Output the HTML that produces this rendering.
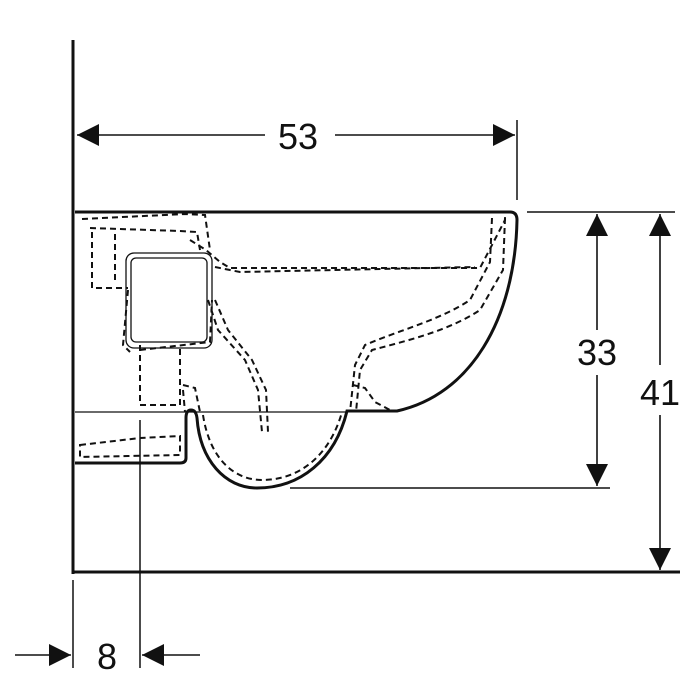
<!DOCTYPE html>
<html><head><style>html,body{margin:0;padding:0;background:#fff}svg{display:block}</style></head>
<body>
<svg width="700" height="700" viewBox="0 0 700 700" xmlns="http://www.w3.org/2000/svg">
<rect width="700" height="700" fill="#fff"/>
<defs>
<marker id="a" viewBox="0 0 10 10" refX="10" refY="5" markerWidth="30" markerHeight="22" markerUnits="userSpaceOnUse" orient="auto">
<path d="M0,0 L10,5 L0,10 Z" fill="#111"/></marker>
</defs>
<g stroke="#111" fill="none">
<line x1="73" y1="40" x2="73" y2="574" stroke-width="3"/>
<line x1="72" y1="572" x2="680" y2="572" stroke-width="3"/>
<path d="M75,212 L510,212 Q517,212 517,220 C515,320 470,395 397,411 L347,411 C335,460 300,488 257,488 C225,488 200,460 197,418 Q196,410 191,410 Q186,410 186,418 L186,458 Q186,463 180,463 L75,463" stroke-width="3"/>
<line x1="75" y1="412" x2="347" y2="412" stroke-width="1.2"/>
<rect x="126" y="253" width="86" height="95" rx="8" stroke-width="1.3"/>
<rect x="131" y="258" width="76" height="84" rx="5" stroke-width="1.3"/>
<g stroke-dasharray="6,4" stroke-width="2">
<path d="M82,219 L185,214 L205,215 L210,250"/>
<path d="M90,228 L180,231 L197,232 L200,250"/>
<path d="M92,232 L92,288 L128,288"/>
<path d="M115,234 L115,280"/>
<path d="M190,240 L206,250 L220,262 L230,268 L480,268 L505,220 L505,215"/>
<path d="M215,267 L240,272 L475,267"/>
<path d="M492,218 L490,262 L470,300 C440,320 400,330 365,345 L355,365 L350,412"/>
<path d="M505,218 L503,270 L480,310 C450,330 410,340 372,350 L360,370 L356,412"/>
<path d="M353,385 L365,388 L375,402 L390,410"/>
<path d="M208,300 L218,330 L245,360 L258,390 L262,432"/>
<path d="M215,300 L228,330 L252,360 L266,390 L268,432"/>
<path d="M140,345 L140,405 L180,405 L180,345"/>
<path d="M140,350 L210,342 L212,300"/>
<path d="M183,385 L195,388 L200,412"/>
<path d="M183,390 L185,412"/>
<path d="M80,445 L140,438 L180,436 L180,455 L80,457 Z"/>
<path d="M203,415 C210,460 235,480 262,480 C300,480 330,455 342,412"/>
<path d="M128,290 L123,345 L130,352"/>
</g>
<line x1="517" y1="120" x2="517" y2="200" stroke-width="1.5"/>
<line x1="265" y1="135" x2="77" y2="135" stroke-width="1.6" marker-end="url(#a)"/>
<line x1="335" y1="135" x2="515" y2="135" stroke-width="1.6" marker-end="url(#a)"/>
<line x1="527" y1="212" x2="675" y2="212" stroke-width="1.5"/>
<line x1="290" y1="488" x2="610" y2="488" stroke-width="1.5"/>
<line x1="597" y1="330" x2="597" y2="214" stroke-width="1.6" marker-end="url(#a)"/>
<line x1="597" y1="375" x2="597" y2="486" stroke-width="1.6" marker-end="url(#a)"/>
<line x1="660" y1="365" x2="660" y2="214" stroke-width="1.6" marker-end="url(#a)"/>
<line x1="660" y1="415" x2="660" y2="570" stroke-width="1.6" marker-end="url(#a)"/>
<line x1="140" y1="420" x2="140" y2="668" stroke-width="1.5"/>
<line x1="73" y1="580" x2="73" y2="668" stroke-width="1.5"/>
<line x1="15" y1="655" x2="71" y2="655" stroke-width="1.6" marker-end="url(#a)"/>
<line x1="200" y1="655" x2="142" y2="655" stroke-width="1.6" marker-end="url(#a)"/>
</g>
<g font-family="Liberation Sans, sans-serif" font-size="36" fill="#111" text-anchor="middle">
<text x="298" y="149">53</text>
<text x="597" y="365">33</text>
<text x="660" y="405">41</text>
<text x="107" y="669">8</text>
</g>
</svg>
</body></html>
